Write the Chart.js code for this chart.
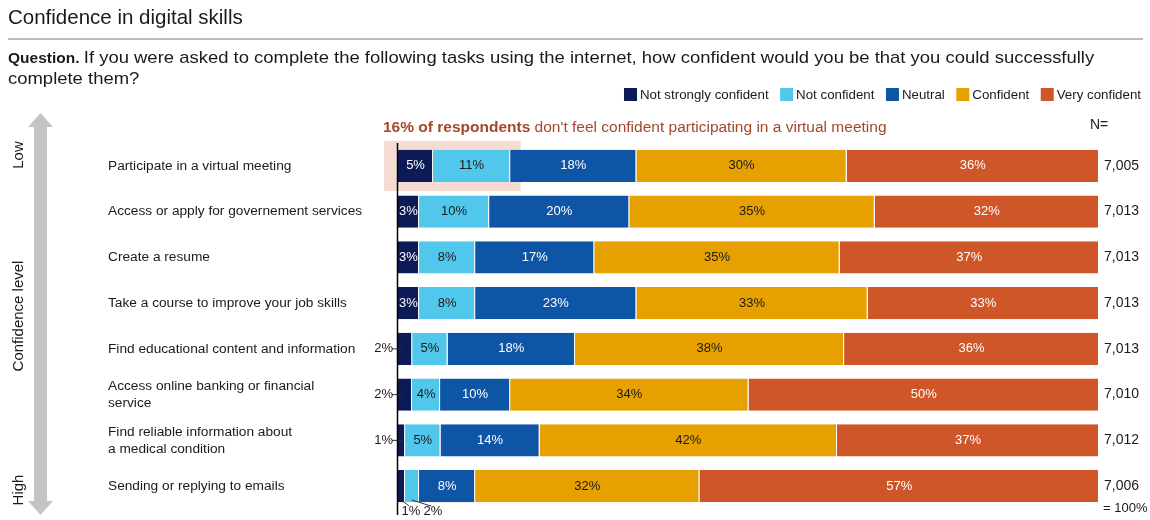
<!DOCTYPE html>
<html lang="en">
  <head>
    <meta charset="UTF-8" />
    <title>Confidence in digital skills</title>
    <style>
      html, body { margin: 0; padding: 0; background: #fff; }
      #wrap { width: 1150px; height: 520px; position: relative; }
    </style>
  </head>
  <body>
    <div id="wrap"><canvas id="myChart"></canvas></div>

    <script src="https://cdn.jsdelivr.net/npm/chart.js"></script>
    <script>
      const tasks = [
        ["Participate in a virtual meeting"],
        ["Access or apply for governement services"],
        ["Create a resume"],
        ["Take a course to improve your job skills"],
        ["Find educational content and information"],
        ["Access online banking or financial", "service"],
        ["Find reliable information about", "a medical condition"],
        ["Sending or replying to emails"]
      ];
      const notStrongly = [5, 3, 3, 3, 2, 2, 1, 1];
      const notConfident = [11, 10, 8, 8, 5, 4, 5, 2];
      const neutral = [18, 20, 17, 23, 18, 10, 14, 8];
      const confident = [30, 35, 35, 33, 38, 34, 42, 32];
      const veryConfident = [36, 32, 37, 33, 36, 50, 37, 57];
      const respondents = ["7,005", "7,013", "7,013", "7,013", "7,013", "7,010", "7,012", "7,006"];

      const seriesNames = ["Not strongly confident", "Not confident", "Neutral", "Confident", "Very confident"];
      const colors = ["#0c1a56", "#52c7ec", "#0f55a5", "#e6a000", "#ce5629"];
      const textColors = ["#ffffff", "#1a1a1a", "#ffffff", "#1a1a1a", "#ffffff"];

      const FONT = "'Liberation Sans', Arial, sans-serif";
      const ctx = document.getElementById("myChart");

      const seriesData = [notStrongly, notConfident, neutral, confident, veryConfident];
      // rounded shares don't always add to 100, so each row is scaled to fill the bar
      const rowTotals = tasks.map((_, i) => seriesData.reduce((s, d) => s + d[i], 0));

      // page text, arrow, legend and highlight box
      const decorations = {
        id: "decorations",
        beforeDatasetsDraw(chart) {
          const c = chart.ctx;
          const area = chart.chartArea;
          const y = chart.scales.y;
          const x = chart.scales.x;
          c.save();
          // highlight behind first row
          const yc = y.getPixelForValue(0);
          c.fillStyle = "#f6dbd3";
          c.fillRect(area.left - 14, yc - 25, x.getPixelForValue(17.5) - area.left + 14, 50);
          c.restore();
        },
        afterDraw(chart) {
          const c = chart.ctx;
          const area = chart.chartArea;
          const y = chart.scales.y;
          c.save();
          c.textBaseline = "alphabetic";
          c.fillStyle = "#1a1a1a";

          // title
          c.font = "20.5px " + FONT;
          c.fillText("Confidence in digital skills", 8, 24);
          c.strokeStyle = "#a6a6a6";
          c.lineWidth = 1.5;
          c.beginPath();
          c.moveTo(8, 39);
          c.lineTo(1143, 39);
          c.stroke();

          // question
          c.font = "bold 15.5px " + FONT;
          c.fillText("Question.", 8, 63);
          const qw = c.measureText("Question. ").width;
          c.font = "16.2px " + FONT;
          c.save();
          c.scale(1.14, 1);
          c.fillText("If you were asked to complete the following tasks using the internet, how confident would you be that you could successfully", (8 + qw) / 1.14, 63);
          c.fillText("complete them?", 8 / 1.14, 84);
          c.restore();

          // legend, right aligned
          c.font = "13.3px " + FONT;
          c.textBaseline = "middle";
          let lx = 1141;
          const items = [];
          for (let i = seriesNames.length - 1; i >= 0; i--) {
            const w = c.measureText(seriesNames[i]).width;
            lx -= w;
            items.push([i, lx]);
            lx -= 16 + 11.5;
          }
          items.forEach(([i, tx]) => {
            c.fillStyle = colors[i];
            c.fillRect(tx - 16, 88, 13, 13);
            c.fillStyle = "#1a1a1a";
            c.fillText(seriesNames[i], tx, 95);
          });

          // annotation
          c.textBaseline = "alphabetic";
          c.fillStyle = "#a4472a";
          c.font = "bold 15.5px " + FONT;
          const bold = "16% of respondents";
          c.fillText(bold, 383, 132);
          const bw = c.measureText(bold + " ").width;
          c.font = "15.5px " + FONT;
          c.fillText("don't feel confident participating in a virtual meeting", 383 + bw, 132);

          // N column
          c.fillStyle = "#1a1a1a";
          c.font = "14px " + FONT;
          c.fillText("N=", 1090, 129);
          c.textBaseline = "middle";
          respondents.forEach((n, i) => c.fillText(n, 1104, y.getPixelForValue(i)));
          c.font = "13px " + FONT;
          c.fillText("= 100%", 1103, 508);

          // category labels
          c.font = "13.7px " + FONT;
          tasks.forEach((lines, i) => {
            const cy = y.getPixelForValue(i);
            const lh = 17;
            const top = cy - (lines.length - 1) * lh / 2;
            lines.forEach((t, k) => c.fillText(t, 108, top + k * lh));
          });

          // vertical axis line
          c.strokeStyle = "#000";
          c.lineWidth = 1.5;
          c.beginPath();
          c.moveTo(area.left - 0.5, area.top);
          c.lineTo(area.left - 0.5, 515);
          c.stroke();

          // confidence arrow
          c.fillStyle = "#c4c4c4";
          c.beginPath();
          c.moveTo(40.5, 113);
          c.lineTo(53, 127);
          c.lineTo(47, 127);
          c.lineTo(47, 501);
          c.lineTo(53, 501);
          c.lineTo(40.5, 515);
          c.lineTo(28, 501);
          c.lineTo(34, 501);
          c.lineTo(34, 127);
          c.lineTo(28, 127);
          c.closePath();
          c.fill();

          c.fillStyle = "#1a1a1a";
          c.font = "15px " + FONT;
          c.textAlign = "center";
          [["Low", 155], ["Confidence level", 316], ["High", 490]].forEach(([t, ty]) => {
            c.save();
            c.translate(19, ty);
            c.rotate(-Math.PI / 2);
            c.fillText(t, 0, 0);
            c.restore();
          });
          c.restore();
        }
      };

      // percentage labels on the segments
      const segmentLabels = {
        id: "segmentLabels",
        afterDatasetsDraw(chart) {
          const c = chart.ctx;
          const area = chart.chartArea;
          c.save();
          c.font = "13px " + FONT;
          c.textBaseline = "middle";
          seriesData.forEach((values, di) => {
            const meta = chart.getDatasetMeta(di);
            meta.data.forEach((bar, i) => {
              const v = values[i];
              const label = v + "%";
              const left = Math.min(bar.x, bar.base);
              const cx = (bar.x + bar.base) / 2;
              if (v >= 3) {
                c.fillStyle = textColors[di];
                c.textAlign = "center";
                c.fillText(label, cx, bar.y);
              } else if (i === tasks.length - 1) {
                // last row: labels below with leader lines
                const tx = di === 0 ? 411 : 433;
                c.strokeStyle = "#333";
                c.lineWidth = 1;
                c.beginPath();
                c.moveTo(cx, bar.y + bar.height / 2 - 2);
                c.lineTo(tx - 2, 506);
                c.stroke();
                c.fillStyle = "#1a1a1a";
                c.textAlign = "center";
                c.fillText(label, tx, 511);
              } else {
                // small values outside, left of the axis
                c.strokeStyle = "#333";
                c.lineWidth = 1;
                c.beginPath();
                c.moveTo(area.left - 6, bar.y);
                c.lineTo(left + 4, bar.y);
                c.stroke();
                c.fillStyle = "#1a1a1a";
                c.textAlign = "right";
                c.fillText(label, area.left - 5, bar.y);
              }
            });
          });
          c.restore();
        }
      };

      const myChart = new Chart(ctx, {
        type: "bar",
        data: {
          labels: tasks.map(t => t.join(" ")),
          datasets: seriesData.map((d, i) => ({
            label: seriesNames[i],
            data: d.map((v, r) => v * 100 / rowTotals[r]),
            backgroundColor: colors[i],
            borderColor: "#ffffff",
            borderWidth: { left: 0, right: 1, top: 0, bottom: 0 },
            borderSkipped: false,
            barPercentage: 0.7,
            categoryPercentage: 1
          }))
        },
        options: {
          indexAxis: "y",
          responsive: true,
          maintainAspectRatio: false,
          animation: false,
          layout: { padding: { left: 398, right: 51, top: 143, bottom: 11 } },
          plugins: {
            legend: { display: false },
            tooltip: { enabled: false }
          },
          scales: {
            x: { stacked: true, min: 0, max: 100, display: false },
            y: { stacked: true, display: false }
          }
        },
        plugins: [decorations, segmentLabels]
      });
    </script>
  </body>
</html>
